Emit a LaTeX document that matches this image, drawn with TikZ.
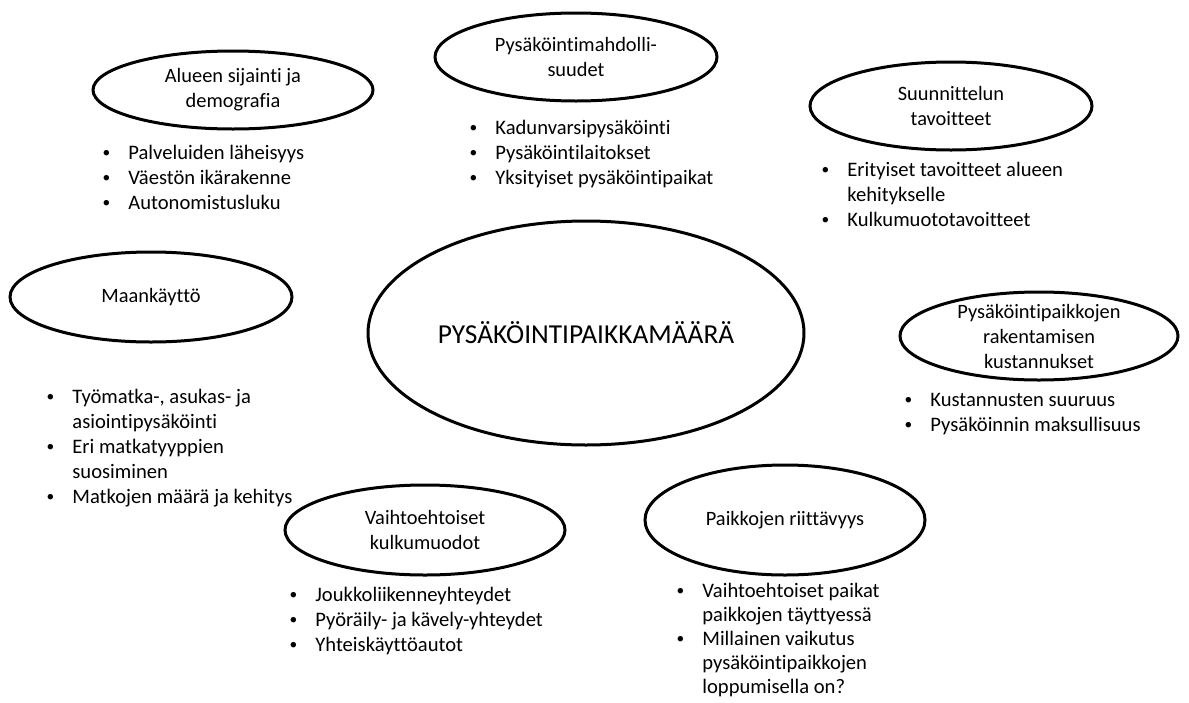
\documentclass[tikz,border=0pt]{standalone}
\usepackage{fontspec}
\setmainfont[Ligatures=NoCommon]{Carlito}
\usetikzlibrary{shapes.geometric}

% bullet of a list
\newcommand{\bul}{\makebox[11pt][l]{\makebox[0pt][c]{\raisebox{0.2ex}{\scalebox{0.75}{\textbullet}}}}}

\begin{document}
\begin{tikzpicture}[
    x=0.5pt, y=-0.5pt,
    % Estilos
    factor/.style={ellipse, draw=black, line width=1.5pt, align=center, inner sep=0pt,
        font=\fontsize{10.2}{12.5}\selectfont},
    main_factor/.style={factor, font=\fontsize{13.7}{16}\selectfont},
    points/.style={anchor=base west, inner sep=0pt, font=\fontsize{10.3}{12.5}\selectfont}
]
\useasboundingbox (0,0) rectangle (1189,702);

% --- keskus ---
\node[main_factor, minimum width=218pt, minimum height=112pt] (maara) at (586,333) {PYSÄKÖINTIPAIKKAMÄÄRÄ};

% --- tekijät ---
\node[factor, minimum width=140pt, minimum height=39pt] (alue) at (233,90) {Alueen sijainti ja\\demografia};
\node[factor, minimum width=141pt, minimum height=44pt] (mahd) at (576,57) {Pysäköintimahdolli-\\suudet};
\node[factor, minimum width=141pt, minimum height=44pt] (tavo) at (951,106) {Suunnittelun\\tavoitteet};
\node[factor, minimum width=141pt, minimum height=45pt] (maan) at (151,297) {Maankäyttö};
\node[factor, minimum width=139pt, minimum height=44pt, inner ysep=-4pt] (kust) at (1039,336) {Pysäköintipaikkojen\\rakentamisen\\kustannukset};
\node[factor, minimum width=140pt, minimum height=45pt] (vaih) at (425,530) {Vaihtoehtoiset\\kulkumuodot};
\node[factor, minimum width=140pt, minimum height=55pt] (riit) at (785,520) {Paikkojen riittävyys};

% --- listat ---
\node[points] (alue_list) at (106,159) {\begin{tabular}[t]{@{}l@{}l@{}}
    \bul & Palveluiden läheisyys\\ \bul & Väestön ikärakenne\\ \bul & Autonomistusluku\end{tabular}};
\node[points] (mahd_list) at (473,134) {\begin{tabular}[t]{@{}l@{}l@{}}
    \bul & Kadunvarsipysäköinti\\ \bul & Pysäköintilaitokset\\ \bul & Yksityiset pysäköintipaikat\end{tabular}};
\node[points] (tavo_list) at (825,176) {\begin{tabular}[t]{@{}l@{}l@{}}
    \bul & Erityiset tavoitteet alueen\\ & kehitykselle\\ \bul & Kulkumuototavoitteet\end{tabular}};
\node[points] (maan_list) at (50,403) {\begin{tabular}[t]{@{}l@{}l@{}}
    \bul & Työmatka-, asukas- ja\\ & asiointipysäköinti\\ \bul & Eri matkatyyppien\\ & suosiminen\\
    \bul & Matkojen määrä ja kehitys\end{tabular}};
\node[points] (kust_list) at (908,406) {\begin{tabular}[t]{@{}l@{}l@{}}
    \bul & Kustannusten suuruus\\ \bul & Pysäköinnin maksullisuus\end{tabular}};
\node[points] (vaih_list) at (293,601) {\begin{tabular}[t]{@{}l@{}l@{}}
    \bul & Joukkoliikenneyhteydet\\ \bul & Pyöräily- ja kävely-yhteydet\\ \bul & Yhteiskäyttöautot\end{tabular}};
\node[points, font=\fontsize{10.3}{12}\selectfont] (riit_list) at (680,597) {\begin{tabular}[t]{@{}l@{}l@{}}
    \bul & Vaihtoehtoiset paikat\\ & paikkojen täyttyessä\\ \bul & Millainen vaikutus\\
    & pysäköintipaikkojen\\ & loppumisella on?\end{tabular}};

\end{tikzpicture}
\end{document}
